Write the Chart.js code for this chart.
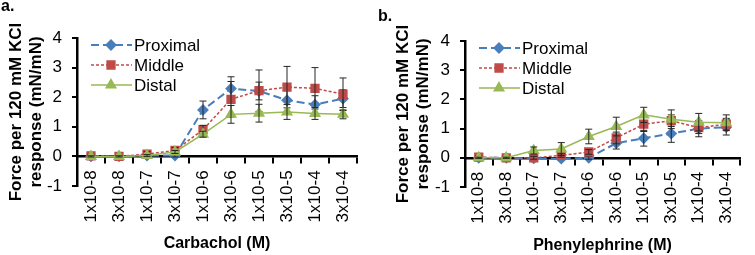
<!DOCTYPE html>
<html>
<head>
<meta charset="utf-8">
<script src="https://cdn.jsdelivr.net/npm/chart.js@4.4.0/dist/chart.umd.min.js"></script>
<style>
    body { margin: 0; background: #fff; font-family: 'Liberation Sans', Arial, sans-serif; }
    .panel { position: absolute; top: 0; height: 255px; }
    .tag { position: absolute; font-weight: bold; font-size: 16px; color: #000; z-index: 2; }
</style>
</head>
<body>
<div class="panel" style="left:0;width:375px"><canvas id="chartA"></canvas></div>
<div class="panel" style="left:375px;width:380px"><canvas id="chartB"></canvas></div>
<div class="tag" style="left:1px;top:-3px">a.</div>
<div class="tag" style="left:378px;top:7px">b.</div>
<script>
// Concentrations (x axis)
const doses = ['1x10-8', '3x10-8', '1x10-7', '3x10-7', '1x10-6', '3x10-6', '1x10-5', '3x10-5', '1x10-4', '3x10-4'];
const yTitle = ['Force per 120 mM KCl', 'response (mN/mN)'];

// Panel a: Carbachol
const carbProximal    = [0.00, 0.00, 0.03, 0.03, 1.57, 2.29, 2.21, 1.90, 1.75, 1.95];
const carbProximalErr = [0.02, 0.02, 0.03, 0.05, 0.30, 0.40, 0.30, 0.40, 0.30, 0.30];
const carbMiddle      = [0.02, 0.00, 0.08, 0.20, 0.90, 1.93, 2.22, 2.34, 2.30, 2.10];
const carbMiddleErr   = [0.05, 0.03, 0.08, 0.10, 0.15, 0.60, 0.70, 0.70, 0.70, 0.55];
const carbDistal      = [0.00, 0.00, 0.03, 0.15, 0.75, 1.42, 1.46, 1.50, 1.45, 1.42];
const carbDistalErr   = [0.02, 0.02, 0.03, 0.05, 0.10, 0.30, 0.30, 0.25, 0.20, 0.15];

// Panel b: Phenylephrine
const pheProximal    = [0.00, 0.00, -0.02, -0.03, 0.00, 0.50, 0.67, 0.83, 1.00, 1.05];
const pheProximalErr = [0.03, 0.02, 0.03, 0.03, 0.05, 0.20, 0.27, 0.30, 0.28, 0.27];
const pheMiddle      = [0.02, 0.00, 0.00, 0.08, 0.20, 0.68, 1.15, 1.27, 1.03, 1.15];
const pheMiddleErr   = [0.05, 0.04, 0.05, 0.06, 0.08, 0.20, 0.25, 0.20, 0.20, 0.20];
const pheDistal      = [0.00, 0.00, 0.25, 0.30, 0.73, 1.07, 1.47, 1.32, 1.22, 1.20];
const pheDistalErr   = [0.02, 0.02, 0.12, 0.22, 0.25, 0.32, 0.26, 0.32, 0.30, 0.27];

const BLUE = '#4A7EBB';
const RED = '#BE4B48';
const GREEN = '#98B954';

Chart.defaults.font.family = "'Liberation Sans', Arial, sans-serif";
Chart.defaults.color = '#000';

// Error bars drawn after each series, through the y scale
const errorBars = {
    id: 'errorBars',
    afterDatasetDraw(chart, args) {
        const ds = chart.data.datasets[args.index];
        if (!ds.errors) return;
        const ctx = chart.ctx;
        const yScale = chart.scales.y;
        ctx.save();
        ctx.strokeStyle = '#262626';
        ctx.lineWidth = 1;
        args.meta.data.forEach((pt, j) => {
            const top = yScale.getPixelForValue(ds.data[j] + ds.errors[j]);
            const bot = yScale.getPixelForValue(ds.data[j] - ds.errors[j]);
            ctx.beginPath();
            ctx.moveTo(pt.x, top); ctx.lineTo(pt.x, bot);
            ctx.moveTo(pt.x - 3.5, top); ctx.lineTo(pt.x + 3.5, top);
            ctx.moveTo(pt.x - 3.5, bot); ctx.lineTo(pt.x + 3.5, bot);
            ctx.stroke();
        });
        ctx.restore();
    }
};

// Legend inside the plot, with line + marker samples
const insideLegend = {
    id: 'insideLegend',
    afterDraw(chart, args, opts) {
        const { ctx, chartArea } = chart;
        const x0 = chartArea.left + opts.dx;
        const y0 = chartArea.top + opts.dy;
        ctx.save();
        ctx.font = "17px 'Liberation Sans', Arial, sans-serif";
        ctx.textBaseline = 'middle';
        ctx.textAlign = 'left';
        chart.data.datasets.forEach((ds, i) => {
            const y = y0 + i * opts.gap;
            ctx.strokeStyle = ds.borderColor;
            ctx.lineWidth = ds.borderWidth;
            ctx.setLineDash(ds.borderDash || []);
            ctx.beginPath();
            ctx.moveTo(x0, y);
            ctx.lineTo(x0 + 41, y);
            ctx.stroke();
            ctx.setLineDash([]);
            ctx.fillStyle = ds.pointBackgroundColor;
            ctx.strokeStyle = ds.pointBorderColor;
            Chart.helpers.drawPoint(ctx, { pointStyle: ds.pointStyle, radius: ds.pointRadius, rotation: 0, borderWidth: 1 }, x0 + 20, y);
            ctx.fillStyle = '#000';
            ctx.fillText(ds.label, x0 + 43, y + 1);
        });
        ctx.restore();
    }
};

function makeSeries(prox, proxErr, mid, midErr, dist, distErr) {
    return [
        {
            label: 'Proximal', data: prox, errors: proxErr,
            borderColor: BLUE, backgroundColor: BLUE, borderWidth: 2, borderDash: [8, 4],
            pointStyle: 'rectRot', pointRadius: 4.5, pointBackgroundColor: BLUE, pointBorderColor: BLUE,
            order: 3
        },
        {
            label: 'Middle', data: mid, errors: midErr,
            borderColor: RED, backgroundColor: RED, borderWidth: 1.5, borderDash: [3, 2],
            pointStyle: 'rect', pointRadius: 5.5, pointBackgroundColor: RED, pointBorderColor: RED,
            order: 2
        },
        {
            label: 'Distal', data: dist, errors: distErr,
            borderColor: GREEN, backgroundColor: GREEN, borderWidth: 1.5,
            pointStyle: 'triangle', pointRadius: 5.5, pointBackgroundColor: GREEN, pointBorderColor: GREEN,
            order: 1
        }
    ];
}

function makeChart(id, datasets, xTitle, cfg) {
    const ctx = document.getElementById(id).getContext('2d');
    return new Chart(ctx, {
        type: 'line',
        data: { labels: doses, datasets: datasets },
        options: {
            responsive: true,
            maintainAspectRatio: false,
            animation: false,
            layout: { padding: { top: cfg.top, right: cfg.right, bottom: cfg.bottom, left: 0 } },
            plugins: {
                legend: { display: false },
                tooltip: { enabled: false },
                insideLegend: { dx: 14, dy: 7, gap: 20 }
            },
            scales: {
                x: {
                    type: 'category',
                    position: { y: 0 },
                    offset: true,
                    grid: { offset: true, drawOnChartArea: false, tickLength: 6, color: '#000', lineWidth: 2 },
                    border: { color: '#000', width: 2.5 },
                    ticks: { color: '#000', font: { size: 17 }, minRotation: 90, maxRotation: 90, padding: 8, autoSkip: false },
                    title: { display: true, text: xTitle, color: '#000', font: { size: 16, weight: 'bold' }, padding: { top: 0, bottom: cfg.xTitlePad } },
                    afterFit: s => { s.height = cfg.xHeight; }
                },
                y: {
                    min: -1,
                    max: 4,
                    ticks: { stepSize: 1, color: '#000', font: { size: 17 }, padding: 10 },
                    grid: { drawOnChartArea: false, tickLength: 5, color: '#000', lineWidth: 2 },
                    border: { color: '#000', width: 2.5 },
                    title: { display: true, text: yTitle, color: '#000', font: { size: 17, weight: 'bold', lineHeight: 1.18 }, padding: { top: cfg.yTitlePad, bottom: 0 } },
                    afterFit: s => { s.width = cfg.yWidth; }
                }
            }
        },
        plugins: [errorBars, insideLegend]
    });
}

makeChart('chartA', makeSeries(carbProximal, carbProximalErr, carbMiddle, carbMiddleErr, carbDistal, carbDistalErr),
    'Carbachol (M)', { top: 38, right: 18, bottom: 69, xHeight: 69, yWidth: 77, xTitlePad: -27.6, yTitlePad: 6 });
makeChart('chartB', makeSeries(pheProximal, pheProximalErr, pheMiddle, pheMiddleErr, pheDistal, pheDistalErr),
    'Phenylephrine (M)', { top: 41, right: 0, bottom: 68, xHeight: 68, yWidth: 90, xTitlePad: -29.3, yTitlePad: 18 });
</script>
</body>
</html>
